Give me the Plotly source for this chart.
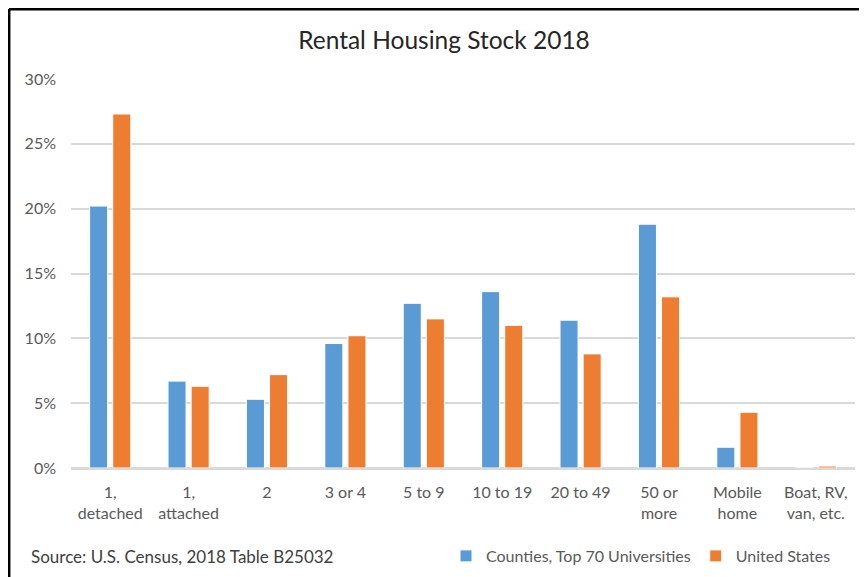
import plotly.graph_objects as go

categories = ["1,<br>detached", "1,<br>attached", "2", "3 or 4", "5 to 9",
              "10 to 19", "20 to 49", "50 or<br>more", "Mobile<br>home", "Boat, RV,<br>van, etc."]
counties = [20.2, 6.7, 5.3, 9.6, 12.7, 13.6, 11.4, 18.8, 1.6, 0.0]
united_states = [27.3, 6.3, 7.2, 10.2, 11.5, 11.0, 8.8, 13.2, 4.3, 0.15]
y_ticks = [0, 5, 10, 15, 20, 25, 30]
y_tick_labels = ["0%", "5%", "10%", "15%", "20%", "25%", "30%"]

FONT = "Lato, 'Open Sans', sans-serif"
GREY = "#595959"

fig = go.Figure()
fig.add_trace(go.Bar(x=categories, y=counties, name="Counties, Top 70 Universities",
                     marker=dict(color="#5B9BD5", line=dict(color="white", width=1))))
fig.add_trace(go.Bar(x=categories, y=united_states, name="United States",
                     marker=dict(color="#ED7D31", line=dict(color="white", width=1))))

# page is offset by the 8px body margin; work in page pixels and convert
OFF = 8
W, H = 867 - OFF, 577 - OFF
PL, PR, PT, PB = 71, 855, 79, 468          # plot area in page pixels
L, R, T, B = PL - OFF, W - (PR - OFF), PT - OFF, H - (PB - OFF)
pw, ph = W - L - R, H - T - B


def px_x(p):
    return (p - OFF - L) / pw


def px_y(p):
    return (H - B - (p - OFF)) / ph


border = dict(color="black", width=2.5)

fig.update_layout(
    width=W, height=H,
    margin=dict(l=L, r=R, t=T, b=B, autoexpand=False),
    paper_bgcolor="white", plot_bgcolor="white",
    barmode="group", bargap=0.41, bargroupgap=0.22,
    font=dict(family=FONT, size=16, color=GREY),
    title=dict(text="Rental Housing Stock 2018", x=(444 - OFF) / W, xanchor="center",
               y=1 - (40 - OFF) / H, yanchor="middle",
               font=dict(family=FONT, size=24.5, color="#262626")),
    xaxis=dict(showgrid=False, showline=True, linecolor="#D9D9D9", linewidth=1.5,
               ticks="", tickangle=0, tickfont=dict(size=16, color=GREY), ticklabelstandoff=9,
               fixedrange=True),
    yaxis=dict(range=[0, 30], tickvals=y_ticks, ticktext=y_tick_labels,
               showgrid=True, gridcolor="#D9D9D9", gridwidth=1.5,
               zeroline=True, zerolinecolor="#D9D9D9", zerolinewidth=1.5,
               ticks="", tickfont=dict(size=16, color=GREY), ticklabelstandoff=14,
               fixedrange=True),
    legend=dict(orientation="h", x=px_x(446), xanchor="left",
                y=px_y(556), yanchor="middle",
                font=dict(size=16, color=GREY), itemwidth=30,
                bgcolor="rgba(0,0,0,0)"),
    shapes=[
        dict(type="line", xref="paper", yref="paper",
             x0=px_x(9), x1=px_x(880), y0=px_y(9.2), y1=px_y(9.2), line=border),
        dict(type="line", xref="paper", yref="paper",
             x0=px_x(9.2), x1=px_x(9.2), y0=px_y(9), y1=px_y(600), line=border),
    ],
    annotations=[dict(text="Source: U.S. Census, 2018 Table B25032", xref="paper", yref="paper",
                      x=px_x(29), y=px_y(556), xanchor="left", yanchor="middle",
                      showarrow=False, font=dict(family=FONT, size=17, color="#404040"))],
)

fig.write_html("out.html")
